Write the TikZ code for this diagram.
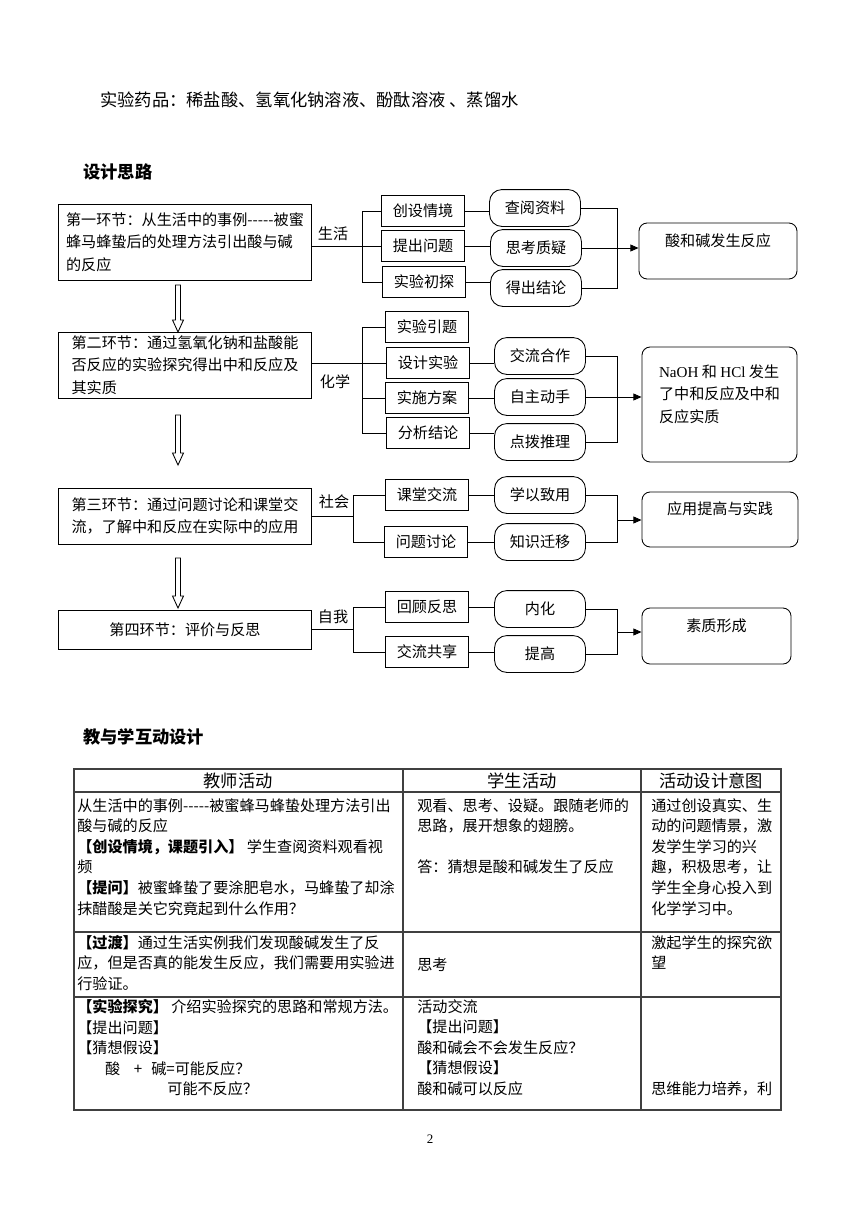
\documentclass[tikz,border=0pt]{standalone}
\usepackage{fontspec}
\setmainfont{Noto Sans CJK SC}[Ligatures=TeXOff]
\newfontfamily\latfont{Liberation Serif}
\usetikzlibrary{arrows.meta,positioning}
\newcommand{\wuhao}{\fontsize{10.5pt}{15.5pt}\selectfont}
\newcommand{\xiaosi}{\fontsize{12pt}{16pt}\selectfont}
\newcommand{\tabfont}{\fontsize{10.5pt}{14.3pt}\selectfont}

\begin{document}
\begin{tikzpicture}[x=0.02442cm, y=-0.02442cm,
    stage/.style={draw, line width=0.6pt, minimum width=6.18cm, align=left,
                  font=\wuhao, inner sep=0pt},
    sbox/.style={draw, line width=0.6pt, minimum width=2.03cm, minimum height=0.76cm,
                 font=\wuhao, inner sep=0pt},
    obox/.style={draw, line width=0.6pt, rounded corners=0.3cm, minimum width=2.22cm,
                 minimum height=0.9cm, font=\wuhao, inner sep=0pt},
    rbox/.style={draw, line width=0.6pt, rounded corners=0.2cm, font=\wuhao,
                 inner sep=0pt, align=center},
    lab/.style={font=\wuhao, inner sep=0pt},
    conn/.style={line width=0.6pt},
    arr/.style={line width=0.6pt, -{Triangle[length=2mm, width=1.7mm]}},
    tabline/.style={line width=0.9pt, black!75},
    cell/.style={anchor=north west, align=left, font=\tabfont, inner sep=0pt},
    head/.style={font=\xiaosi, inner sep=0pt}
]
\fill[white] (0,0) rectangle (860,1216);
\useasboundingbox (0,0) rectangle (860,1216);

% Page text
\node[font=\xiaosi, anchor=west, inner sep=0pt] (drug) at (100,100)
    {实验药品：稀盐酸、氢氧化钠溶液、酚酞溶液 、蒸馏水};
\node[font={\xiaosi\bfseries}, anchor=west, inner sep=0pt] (idea) at (83,172) {设计思路};
\node[font={\xiaosi\bfseries}, anchor=west, inner sep=0pt] (inter) at (83,737) {教与学互动设计};

% Stages
\node[stage, minimum height=1.856cm] (s1) at (185,242)
    {第一环节：从生活中的事例-----被蜜\\蜂马蜂蛰后的处理方法引出酸与碱\\的反应};
\node[stage, minimum height=1.612cm] (s2) at (185,365)
    {第二环节：通过氢氧化钠和盐酸能\\否反应的实验探究得出中和反应及\\其实质};
\node[stage, minimum height=1.368cm] (s3) at (185,516)
    {第三环节：通过问题讨论和课堂交\\流，了解中和反应在实际中的应用};
\node[stage, minimum height=0.952cm] (s4) at (185,629.5) {第四环节：评价与反思};

% Hollow arrows between stages
\foreach \ya/\yb in {285/332, 415/465, 558/608}
    \draw[line width=0.6pt] (175.5,\ya) -- (180.5,\ya) -- (180.5,\yb-12) -- (183.5,\yb-12)
        -- (178,\yb) -- (172.5,\yb-12) -- (175.5,\yb-12) -- cycle;

% Row 1
\node[sbox] (b11) at (423,211) {创设情境};
\node[sbox] (b12) at (423,246) {提出问题};
\node[sbox] (b13) at (424,282) {实验初探};
\node[obox] (o11) at (535,208) {查阅资料};
\node[obox] (o12) at (536,248) {思考质疑};
\node[obox] (o13) at (536,288) {得出结论};
\node[rbox, minimum width=3.858cm, minimum height=1.368cm] (r1) at (718,251)
    {酸和碱发生反应\\~};
\node[lab] (l1) at (333,234) {生活};
\coordinate (k1) at (362,242);
\coordinate (j1) at (617,248);

\draw[conn] (s1.east |- b12.west) -- (b12.west);
\draw[conn] (b11.west) -- (b11.west -| k1) -- (b13.west -| k1) -- (b13.west);
\foreach \i in {1,2,3}
    \draw[conn] (b1\i.east) -- (b1\i.east -| o1\i.west);
\draw[conn] (o11.east) -- (o11.east -| j1) -- (o13.east -| j1) -- (o13.east);
\draw[arr] (o12.east) -- (o12.east -| r1.west);

% Row 2
\node[sbox] (b21) at (427,327) {实验引题};
\node[sbox] (b22) at (428,363) {设计实验};
\node[sbox] (b23) at (427,398) {实施方案};
\node[sbox] (b24) at (428,433) {分析结论};
\node[obox] (o22) at (540,356) {交流合作};
\node[obox] (o23) at (540,397) {自主动手};
\node[obox] (o24) at (540,442) {点拨推理};
\node[rbox, align=left, minimum width=3.785cm, minimum height=2.808cm] (r2) at (719.5,404.5)
    {{\latfont NaOH} 和 {\latfont HCl} 发生\\了中和反应及中和\\反应实质\\~};
\node[lab] (l2) at (335,382) {化学};
\coordinate (k2) at (362,363);
\coordinate (j2) at (617,397);

\draw[conn] (s2.east |- b22.west) -- (b22.west);
\draw[conn] (b21.west) -- (b21.west -| k2) -- (b24.west -| k2) -- (b24.west);
\draw[conn] (b23.west -| k2) -- (b23.west);
\foreach \i in {2,3,4}
    \draw[conn] (b2\i.east) -- (b2\i.east -| o2\i.west);
\draw[conn] (o22.east) -- (o22.east -| j2) -- (o24.east -| j2) -- (o24.east);
\draw[arr] (o23.east) -- (o23.east -| r2.west);

% Row 3
\node[sbox] (b31) at (427,495) {课堂交流};
\node[sbox] (b32) at (426,542) {问题讨论};
\node[obox] (o31) at (540,495) {学以致用};
\node[obox] (o32) at (540,542) {知识迁移};
\node[rbox, minimum width=3.81cm, minimum height=1.343cm] (r3) at (720,519.5)
    {应用提高与实践\\~};
\node[lab] (l3) at (334,502) {社会};
\coordinate (k3) at (353,513);
\coordinate (j3) at (617,520);

\draw[conn] (s3.east) -- (s3.east -| k3);
\draw[conn] (b31.west) -- (b31.west -| k3) -- (b32.west -| k3) -- (b32.west);
\foreach \i in {1,2}
    \draw[conn] (b3\i.east) -- (b3\i.east -| o3\i.west);
\draw[conn] (o31.east) -- (o31.east -| j3) -- (o32.east -| j3) -- (o32.east);
\draw[arr] (j3) -- (j3 -| r3.west);

% Row 4
\node[sbox] (b41) at (427,607) {回顾反思};
\node[sbox] (b42) at (427,652) {交流共享};
\node[obox] (o41) at (540,609) {内化};
\node[obox] (o42) at (540,654) {提高};
\node[rbox, minimum width=3.639cm, minimum height=1.368cm] (r4) at (716.5,636)
    {素质形成\\~};
\node[lab] (l4) at (333,617) {自我};
\coordinate (k4) at (353,629.5);
\coordinate (j4) at (617,632);

\draw[conn] (s4.east) -- (s4.east -| k4);
\draw[conn] (b41.west) -- (b41.west -| k4) -- (b42.west -| k4) -- (b42.west);
\foreach \i in {1,2}
    \draw[conn] (b4\i.east) -- (b4\i.east -| o4\i.west);
\draw[conn] (o41.east) -- (o41.east -| j4) -- (o42.east -| j4) -- (o42.east);
\draw[arr] (j4) -- (j4 -| r4.west);

% Table grid
\draw[tabline] (74,769) rectangle (781,1110);
\foreach \y in {792, 932, 997}
    \draw[tabline] (74,\y) -- (781,\y);
\foreach \x in {403, 641}
    \draw[tabline] (\x,769) -- (\x,1110);

% Table header
\node[head] (th1) at (238,781) {教师活动};
\node[head] (th2) at (522,781) {学生活动};
\node[head] (th3) at (711,781) {活动设计意图};

% Table row 1
\node[cell] (c11) at (77,798)
    {从生活中的事例-----被蜜蜂马蜂蛰处理方法引出\\
     酸与碱的反应\\
     \textbf{【创设情境，课题引入】} 学生查阅资料观看视\\
     频\\
     \textbf{【提问】}被蜜蜂蛰了要涂肥皂水，马蜂蛰了却涂\\
     抹醋酸是关它究竟起到什么作用？};
\node[cell] (c12) at (417,798)
    {观看、思考、设疑。跟随老师的\\
     思路，展开想象的翅膀。\\
     ~\\
     答：猜想是酸和碱发生了反应};
\node[cell] (c13) at (651,798)
    {通过创设真实、生\\动的问题情景，激\\发学生学习的兴\\趣，积极思考，让\\学生全身心投入到\\化学学习中。};

% Table row 2
\node[cell] (c21) at (77,935)
    {\textbf{【过渡】}通过生活实例我们发现酸碱发生了反\\
     应，但是否真的能发生反应，我们需要用实验进\\
     行验证。};
\node[cell] (c22) at (417,958) {思考};
\node[cell] (c23) at (651,935) {激起学生的探究欲\\望};

% Table row 3
\node[cell] (c31) at (77,999)
    {\textbf{【实验探究】} 介绍实验探究的思路和常规方法。\\
     【提出问题】\\
     【猜想假设】\\
     \hspace*{0.68cm}酸\hspace{0.9em}+\hspace{0.6em}碱=可能反应？\\
     \hspace*{2.2cm}可能不反应？};
\node[cell] (c32) at (417,999)
    {活动交流\\【提出问题】\\酸和碱会不会发生反应？\\【猜想假设】\\酸和碱可以反应};
\node[cell] (c33) at (651,1081) {思维能力培养，利};

% Page number
\node[font=\latfont\fontsize{9pt}{9pt}\selectfont, inner sep=0pt] (pg) at (430,1139) {2};

\end{tikzpicture}
\end{document}
